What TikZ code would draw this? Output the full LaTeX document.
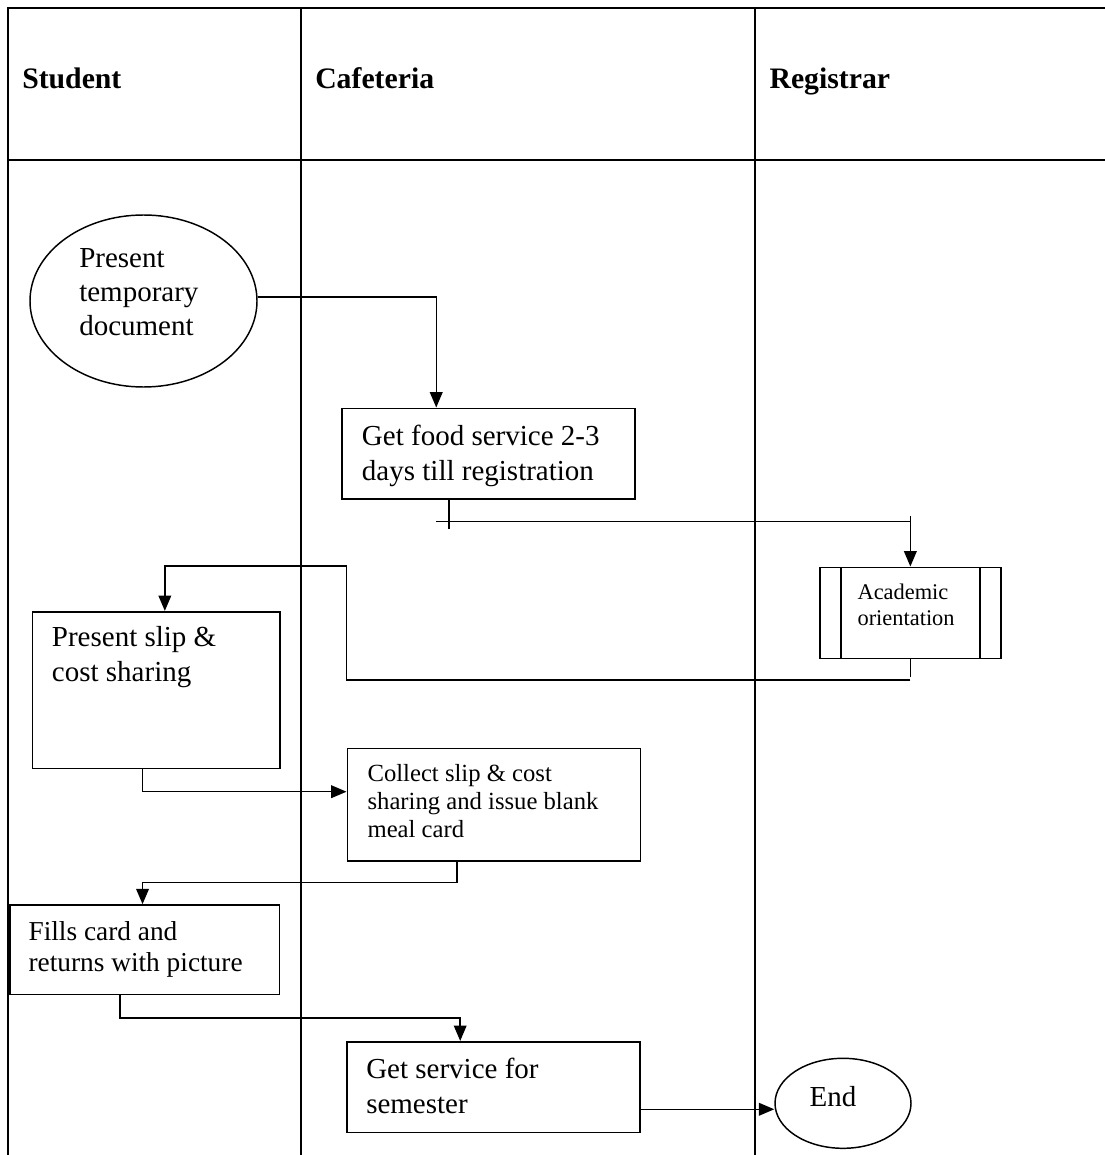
\documentclass[tikz,border=0pt]{standalone}
\usepackage{fontspec}
\setmainfont{Liberation Serif}
\usetikzlibrary{arrows.meta,shapes.geometric,fit}
% left-aligned stack of lines whose baseline is the first line
\newcommand{\cellstack}[1]{\begin{tabular}[t]{@{}l@{}}#1\end{tabular}}
\begin{document}
\begin{tikzpicture}[x=0.75pt,y=-0.75pt,
  frame/.style={line width=1.5pt},
  thinframe/.style={line width=0.9pt},
  stepbox/.style={draw,line width=1.2pt,inner sep=0pt,rectangle},
  oval/.style={draw,line width=1.1pt,ellipse,inner sep=0pt},
  lbl/.style={inner sep=0pt,anchor=base west},
  big/.style={font=\fontsize{21.75}{26.25}\selectfont},
  head/.style={lbl,font=\fontsize{22.3}{26}\selectfont\bfseries},
  conn/.style={line width=1.1pt},
  arr/.style={conn,-{Triangle[length=11.5pt,width=9.5pt]}}]

\useasboundingbox (0,0) rectangle (1105,1155);

% swimlane table
\draw[frame] (1105,8) -- (8,8) -- (8,1155);
\draw[frame] (8,160) -- (1105,160);
\draw[frame] (301,8) -- (301,1155);
\draw[thinframe] (755,8) -- (755,1155);

\node[head] (hStudent) at (22,88.3) {Student};
\node[head] (hCafe) at (315,88.3) {Cafeteria};
\node[head] (hReg) at (769.3,88.3) {Registrar};

% process shapes
\node[oval, minimum width=170.25pt, minimum height=129pt] (ptd) at (143.5,301) {};
\node[stepbox, fit={(341.7,408.3) (635,499)}] (gfs) {};
\node[stepbox, fit={(820,567.3) (1000.7,658.3)}] (ao) {};
\draw[line width=1.2pt] ([xshift=16.3pt]ao.north west) -- ([xshift=16.3pt]ao.south west);
\draw[line width=1.2pt] ([xshift=-16.3pt]ao.north east) -- ([xshift=-16.3pt]ao.south east);
\node[stepbox, fit={(32.3,611.7) (280,768.3)}] (psc) {};
\node[stepbox, fit={(347.3,748.3) (640.3,860.7)}] (csi) {};
\node[stepbox, fit={(10,905) (279.3,994.3)}] (fc) {};
\node[stepbox, fit={(347,1041.7) (640,1132.3)}] (gss) {};
\node[oval, minimum width=102pt, minimum height=67.5pt] (end) at (843,1103.3) {};

% texts
\node[lbl,font=\fontsize{21.75}{25.7}\selectfont] (tptd) at (79,267.3) {\cellstack{Present\\temporary\\document}};
\node[lbl,big] (tgfs) at (361.7,445.7) {\cellstack{Get food service 2-3\\days till registration}};
\node[lbl,font=\fontsize{16.8}{19.8}\selectfont] (tao) at (857.3,599) {\cellstack{Academic\\orientation}};
\node[lbl,big] (tpsc) at (51.7,646.7) {\cellstack{Present slip \&\\cost sharing}};
\node[lbl,font=\fontsize{18.5}{21.1}\selectfont] (tcsi) at (367.3,781.7) {\cellstack{Collect slip \& cost\\sharing and issue blank\\meal card}};
\node[lbl,font=\fontsize{20.5}{23.8}\selectfont] (tfc) at (28.3,940) {\cellstack{Fills card and\\returns with picture}};
\node[lbl,big] (tgss) at (366,1078) {\cellstack{Get service for\\semester}};
\node[lbl,big] (tend) at (809.3,1106) {End};

% connectors
\draw[arr] ([yshift=3pt]ptd.east) -| ([xshift=71.5pt]gfs.north west);

\draw[conn] ([xshift=81.2pt]gfs.south west) -- ++(0,29);
\coordinate (j1) at (436,521.7);
\draw[conn] (j1) -- (j1 -| ao.north);
\draw[arr] ([yshift=38pt]ao.north) -- (ao.north);

\draw[conn] (ao.south) -- ++(0,17.7);
\coordinate (j2) at (910.3,680);
\coordinate (b2) at (346.7,566);
\draw[arr] (j2) -| (b2) -| ([xshift=100pt]psc.north west);

\draw[arr] ([xshift=83.3pt]psc.south west) |- ([yshift=9.6pt]csi.west);
\draw[arr] ([xshift=82.8pt]csi.south west) -- ++(0,21) -| ([xshift=100pt]fc.north west);
\draw[arr] ([xshift=83.25pt]fc.south west) -- ++(0,23) -| ([xshift=85.5pt]gss.north west);
\draw[arr] ([yshift=-16.7pt]gss.east) coordinate (e0) -- (e0 -| end.west);
\end{tikzpicture}
\end{document}
